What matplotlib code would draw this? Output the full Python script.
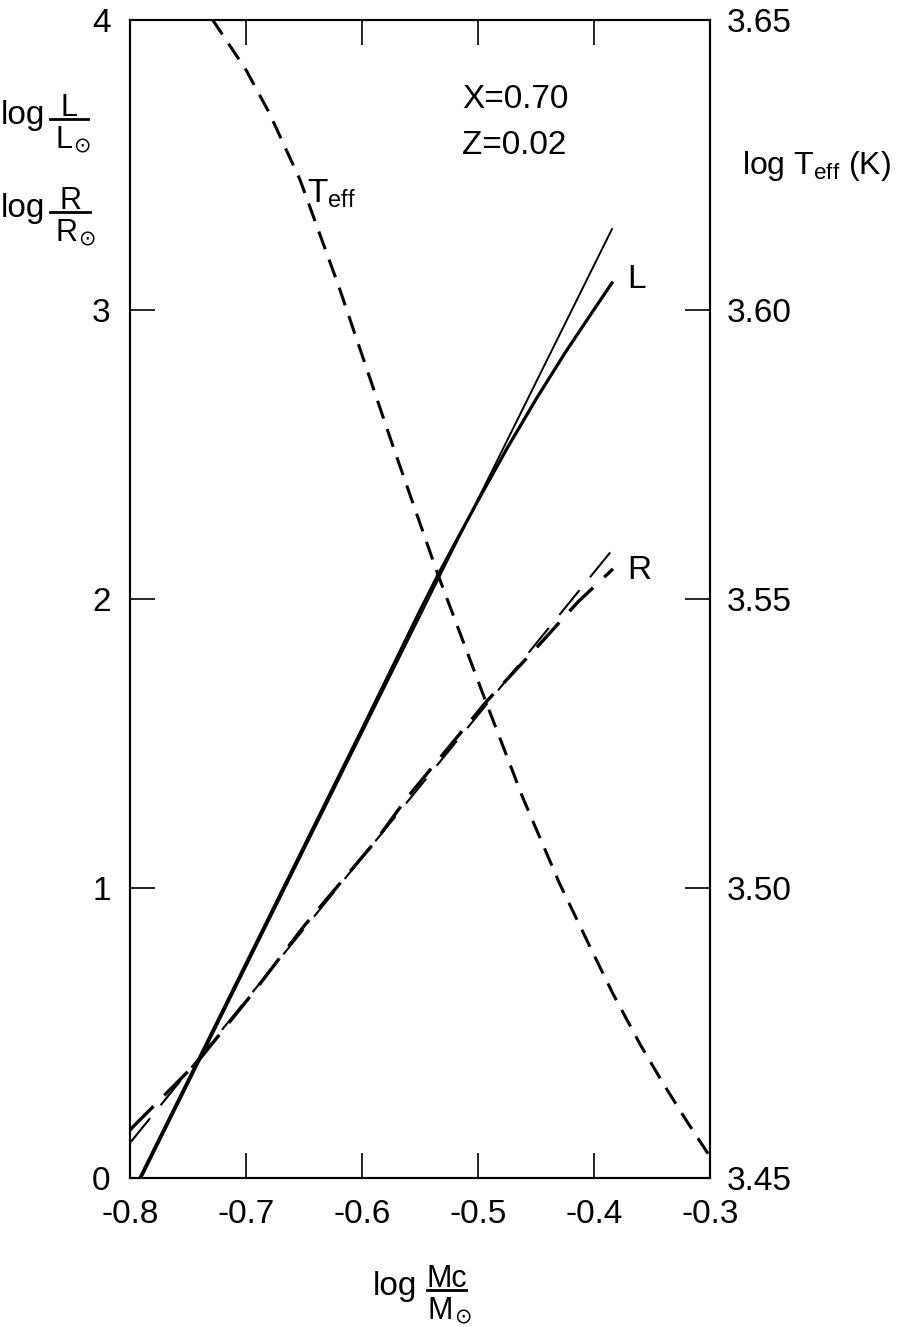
import matplotlib
matplotlib.use('Agg')
import matplotlib.pyplot as plt
from matplotlib.lines import Line2D

plt.rcParams['font.family'] = ['Liberation Sans', 'DejaVu Sans']
plt.rcParams['mathtext.fontset'] = 'custom'
plt.rcParams['mathtext.rm'] = 'Liberation Sans'
plt.rcParams['mathtext.it'] = 'Liberation Sans:italic'
plt.rcParams['axes.unicode_minus'] = False
plt.rcParams['lines.scale_dashes'] = False

# log Mc/Msun vs log L/Lsun (model) and linear fit
mc_L = [-0.7914, -0.742, -0.70, -0.65, -0.60, -0.55, -0.5345, -0.50, -0.475, -0.45, -0.425, -0.40, -0.3845]
logL = [0.0, 0.40, 0.74, 1.145, 1.55, 1.96, 2.083, 2.34, 2.52, 2.69, 2.85, 3.0, 3.092]
mc_Lfit = [-0.7914, -0.3845]
logL_fit = [-0.01, 3.278]

# log R/Rsun (model) and linear fit
mc_R = [-0.80, -0.742, -0.694, -0.65, -0.5888, -0.5612, -0.4931, -0.45, -0.4138, -0.3836]
logR = [0.166, 0.40, 0.639, 0.87, 1.161, 1.313, 1.644, 1.83, 1.99, 2.104]
mc_Rfit = [-0.80, -0.3836]
logR_fit = [0.121, 2.173]

# log Teff (right axis)
mc_T = [-0.7293, -0.70, -0.68, -0.6534, -0.62, -0.5733, -0.5345, -0.4931, -0.4612, -0.43,
        -0.40, -0.3836, -0.36, -0.34, -0.32, -0.3017]
logT = [3.6502, 3.6414, 3.6340, 3.6224, 3.6040, 3.5764, 3.5542, 3.5322, 3.5156, 3.5010,
        3.4885, 3.4818, 3.4730, 3.4662, 3.4598, 3.4542]

fig = plt.figure(figsize=(9, 13.27), dpi=100)
ax = fig.add_axes([0.1444, 0.1123, 0.6445, 0.8726])
ax2 = ax.twinx()

ax.plot(mc_Lfit, logL_fit, color='black', lw=1.4)
ax.plot(mc_L, logL, color='black', lw=2.3)
ax.plot(mc_Rfit, logR_fit, color='black', lw=1.5, linestyle=(0, (23, 12)))
ax.plot(mc_R, logR, color='black', lw=2.4, linestyle=(0, (24, 11)))
ax2.plot(mc_T, logT, color='black', lw=2.2, linestyle=(0, (13.5, 8)))

ax.set_xlim(-0.8, -0.3)
ax.set_ylim(0, 4)
ax2.set_ylim(3.45, 3.65)

ax.set_xticks([-0.8, -0.7, -0.6, -0.5, -0.4, -0.3])
ax.set_xticklabels(['-0.8', '-0.7', '-0.6', '-0.5', '-0.4', '-0.3'])
ax.set_yticks([0, 1, 2, 3, 4])
ax.set_yticklabels(['0', '1', '2', '3', '4'])
ax2.set_yticks([3.45, 3.50, 3.55, 3.60, 3.65])
ax2.set_yticklabels(['3.45', '3.50', '3.55', '3.60', '3.65'])

fs = 24
for a in (ax, ax2):
    for s in a.spines.values():
        s.set_linewidth(1.5)
ax.tick_params(axis='both', direction='in', length=18, width=1.2, labelsize=fs, pad=15, top=True)
ax.tick_params(axis='y', pad=14)
ax2.tick_params(axis='y', direction='in', length=18, width=1.2, labelsize=fs, pad=12)

ax.text(-0.3716, 3.105, 'L', fontsize=fs, va='center', ha='left')
ax.text(-0.3716, 2.10, 'R', fontsize=fs, va='center', ha='left')
ax.text(-0.6474, 3.40, r'T$_{\mathrm{eff}}$', fontsize=fs, va='center', ha='left')


def px(x, y):
    return x / 900, 1 - y / 1327


fig.text(*px(462, 100), 'X=0.70', fontsize=fs, ha='left', va='center')
fig.text(*px(462, 146), 'Z=0.02', fontsize=fs, ha='left', va='center')
fig.text(*px(742, 166), r'log T$_{\mathrm{eff}}$ (K)', fontsize=23, ha='left', va='center')


def frac_label(x_log, y_bar, bar_x0, bar_x1, num, den, den_x):
    ffs = 22
    fig.text(*px(x_log, y_bar + 5), 'log', fontsize=fs, ha='left', va='baseline')
    xc = (bar_x0 + bar_x1) / 2
    fig.text(*px(xc, y_bar - 3), num, fontsize=ffs, ha='center', va='baseline')
    t = fig.text(*px(den_x, y_bar + 29), den, fontsize=ffs, ha='left', va='baseline')
    fig.canvas.draw()
    bb = t.get_window_extent()
    fig.text(*px(bb.x1 + 1, y_bar + 33), '\u2299', fontsize=15, ha='left', va='baseline',
             family='DejaVu Sans')
    (x0, y0), (x1, y1) = px(bar_x0, y_bar), px(bar_x1, y_bar)
    fig.add_artist(Line2D([x0, x1], [y0, y1], transform=fig.transFigure, color='black', lw=2))


frac_label(1, 119, 50, 88, 'L', 'L', 55)
frac_label(1, 212, 50, 90, 'R', 'R', 55)
frac_label(373, 1290, 427, 466, 'Mc', 'M', 428)

fig.savefig('out.png', dpi=100)
